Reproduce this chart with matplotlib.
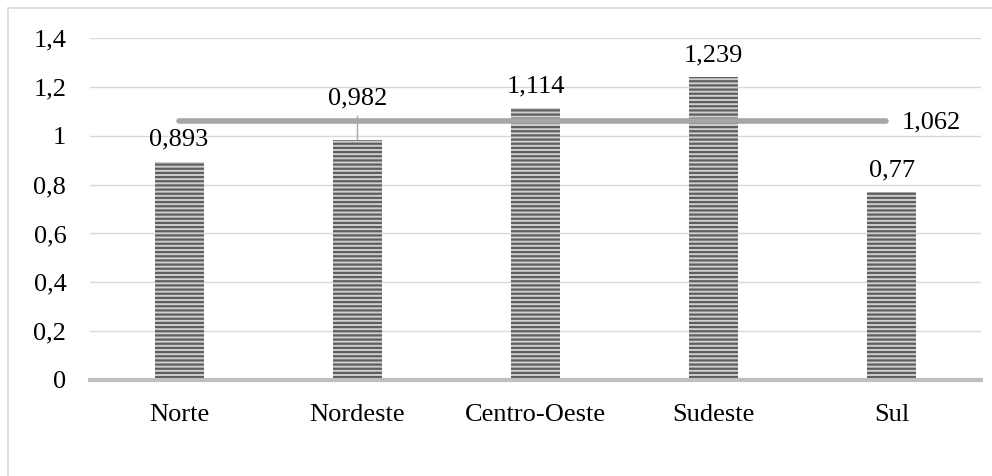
import matplotlib.pyplot as plt
import matplotlib.patches as mpatches

# Regiões e valores
regioes = ["Norte", "Nordeste", "Centro-Oeste", "Sudeste", "Sul"]
valores = [0.893, 0.982, 1.114, 1.239, 0.77]
rotulos = ["0,893", "0,982", "1,114", "1,239", "0,77"]
media = 1.062
rotulo_media = "1,062"
ticks_y = [0, 0.2, 0.4, 0.6, 0.8, 1.0, 1.2, 1.4]
ticks_y_txt = ["0", "0,2", "0,4", "0,6", "0,8", "1", "1,2", "1,4"]

plt.rcParams['font.family'] = ['Liberation Serif', 'DejaVu Serif']
plt.rcParams['hatch.linewidth'] = 1.6
fs = 19

fig = plt.figure(figsize=(9.92, 4.76), dpi=100)
ax = fig.add_axes([0.0907, 0.2017, 0.898, 0.7183])

# moldura do gráfico
fig.patches.append(mpatches.Rectangle((8 / 992, -0.1), 1.2, 1 - 8 / 476 + 0.1,
                                      transform=fig.transFigure, fill=False,
                                      edgecolor="#D9D9D9", linewidth=1.2))

x = list(range(len(regioes)))
ax.bar(x, valores, width=0.275, color="#cfcfcf", edgecolor="#5e5e5e",
       hatch="----", linewidth=0, zorder=3)

# linha da média
ax.plot([x[0], x[-1] - 0.03], [media, media], color="#A6A6A6", linewidth=4,
        solid_capstyle="round", zorder=4)
ax.text(x[-1] + 0.055, media - 0.006, rotulo_media, fontsize=fs,
        ha="left", va="center", zorder=5)

# rótulos de dados
for i, (v, r) in enumerate(zip(valores, rotulos)):
    if i == 1:
        ax.text(i, 1.154, r, fontsize=fs, ha="center", va="center", zorder=5)
        ax.plot([i, i], [1.081, v], color="#A6A6A6", linewidth=1, zorder=2)
    else:
        ax.annotate(r, (i, v), xytext=(0, 11.5), textcoords="offset points",
                    fontsize=fs, ha="center", va="baseline", zorder=5)

ax.set_xlim(-0.5, len(regioes) - 0.5)
ax.set_ylim(0, 1.4)
ax.set_yticks(ticks_y)
ax.set_yticklabels(ticks_y_txt, fontsize=fs)
ax.set_xticks(x)
ax.set_xticklabels(regioes, fontsize=fs)
ax.tick_params(axis="y", length=0, pad=17)
ax.tick_params(axis="x", length=0, pad=17)

ax.grid(axis="y", color="#D9D9D9", linewidth=1, zorder=0)
ax.set_axisbelow(True)
for s in ["top", "right", "left"]:
    ax.spines[s].set_visible(False)
ax.spines["bottom"].set_color("#BFBFBF")
ax.spines["bottom"].set_linewidth(3)
ax.spines["bottom"].set_zorder(4)

fig.savefig("out.png", dpi=100)
